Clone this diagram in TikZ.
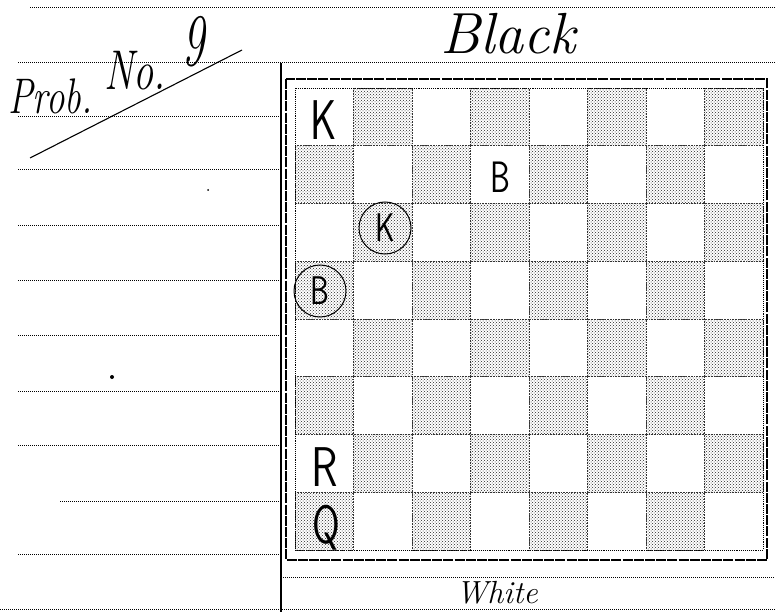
\documentclass[tikz,border=0pt]{standalone}
\usepackage{fontspec}
\usepackage{graphicx}
\usetikzlibrary{patterns}
\newcommand{\narrow}[2]{\scalebox{#1}[1]{#2}}
\begin{document}
\begin{tikzpicture}[x=1pt,y=-1pt,
  rule/.style={line width=1pt, densely dotted},
  frameline/.style={line width=1.5pt, dash pattern=on 10pt off 1.2pt},
  darksq/.style={pattern=crosshatch dots, pattern color=black!85, draw=black!80, densely dotted, line width=0.6pt},
  piece/.style={font=\sffamily\fontsize{56}{56}\selectfont, inner sep=0pt},
  ringed/.style={circle, draw, line width=1pt, minimum size=52pt, inner sep=0pt, font=\sffamily\fontsize{40}{40}\selectfont},
  hand/.style={font=\itshape\fontsize{50}{50}\selectfont, inner sep=0pt}]
\useasboundingbox (0,0) rectangle (775,612);
% top dotted edge of the sheet
\draw[rule, line width=0.8pt] (30,7) -- (775,7);
% main title rule
\draw[rule] (18,63) -- (775,63);
% left column rules
\foreach \yy in {117,170,225,280,335,391,445,554} \draw[rule] (18,\yy) -- (280,\yy);
\draw[rule] (60,501) -- (280,501);
\draw[rule] (0,609) -- (775,609);
% vertical divider
\draw[line width=1.3pt] (281,63) -- (281,612);
% rule under the board
\draw[rule] (281,577) -- (775,577);
% board squares
\foreach \c in {0,...,7} {
  \foreach \r in {0,...,7} {
    \pgfmathtruncatemacro\odd{mod(\c+\r,2)}
    \ifnum\odd=1
      \fill[darksq] ({295+58.5*\c},{88+57.75*\r}) rectangle ++(58.5,57.75);
    \fi
  }
}
% board borders
\draw[densely dotted, line width=0.9pt] (295,88) rectangle (763,550);
\draw[frameline] (286,79) rectangle (767,560);
% pieces
\node[piece] (k8) at (324,120) {\narrow{0.72}{K}};
\node[piece, font=\sffamily\fontsize{44}{44}\selectfont] (b7) at (500,177) {\narrow{0.72}{B}};
\node[ringed] (k6) at (385,228) {\narrow{0.75}{K}};
\node[ringed] (b5) at (320,291) {\narrow{0.75}{B}};
\node[piece] (r2) at (325,467) {\narrow{0.78}{R}};
\node[piece, font=\sffamily\fontsize{54}{54}\selectfont] (q1) at (326,528) {\narrow{0.74}{Q}};
% headings
\node[hand, font=\itshape\fontsize{58}{58}\selectfont] (black) at (508,34) {Black};
\node[hand, font=\itshape\fontsize{32}{32}\selectfont] (white) at (497,593) {White};
\node[hand, anchor=base west] (prob) at (8,114) {\narrow{0.74}{Prob.}};
\node[hand, anchor=base west, font=\itshape\fontsize{56}{56}\selectfont] (no) at (104,90) {\narrow{0.72}{No.}};
\node[hand, font=\itshape\fontsize{74}{74}\selectfont] (nine) at (194,42) {\narrow{0.6}{9}};
\draw[line width=1.1pt] (30,158) -- (242,50);
% stray marks
\fill (112,377) circle (2pt);
\fill (208,190) circle (1pt);
\end{tikzpicture}
\end{document}
